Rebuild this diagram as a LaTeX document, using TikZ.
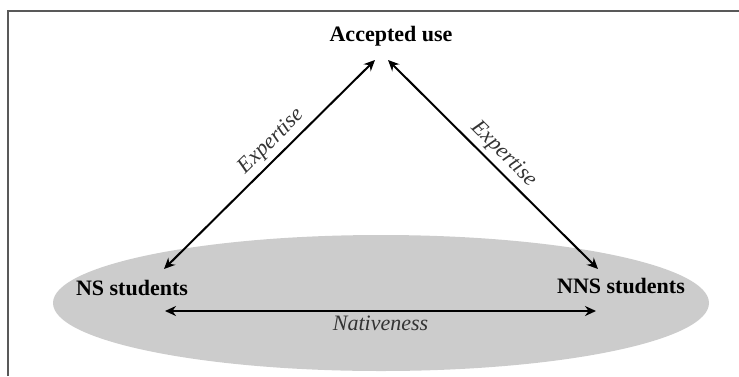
\documentclass[tikz,border=0pt]{standalone}
\usepackage{fontspec}
\setmainfont{Liberation Serif}
\usetikzlibrary{positioning, arrows.meta}

\begin{document}
\begin{tikzpicture}[x=0.5pt, y=-0.5pt,
    actor/.style={font=\fontsize{11}{13}\selectfont\bfseries, inner sep=1pt},
    relname/.style={font=\fontsize{11}{13}\selectfont\itshape, text=black!80, inner sep=2pt},
    relation/.style={{Stealth[length=5.5pt, width=5pt, inset=1.8pt]}-{Stealth[length=5.5pt, width=5pt, inset=1.8pt]}, line width=1pt}]

    \useasboundingbox (0,0) rectangle (739,376);

    % ===== Frame (only top and left edges show) =====
    \draw[black!65, line width=1pt] (8,376) -- (8,11) -- (739,11);

    % ===== Shared ground of the two groups =====
    \fill[gray!40] (381,303) ellipse (328 and 68);

    % ===== Parties =====
    \node[actor] (accepted) at (391,36) {Accepted use};
    \node[actor] (ns) at (132,288) {NS students};
    \node[actor] (nns) at (621,286) {NNS students};

    % arrow ends
    \coordinate (accL) at (375,60);
    \coordinate (accR) at (388,60);
    \coordinate (nsTop) at (164,269);
    \coordinate (nnsTop) at (598,269);
    \coordinate (nsEnd) at (165,311);
    \coordinate (nnsEnd) at (596,311);

    % ===== Relations =====
    \draw[relation] (nsTop) -- node[pos=0.56, above, sloped, relname] {Expertise} (accL);
    \draw[relation] (accR) -- node[pos=0.5, above, sloped, relname] {Expertise} (nnsTop);
    \draw[relation] (nsEnd) -- node[below, relname] {Nativeness} (nnsEnd);

\end{tikzpicture}
\end{document}
